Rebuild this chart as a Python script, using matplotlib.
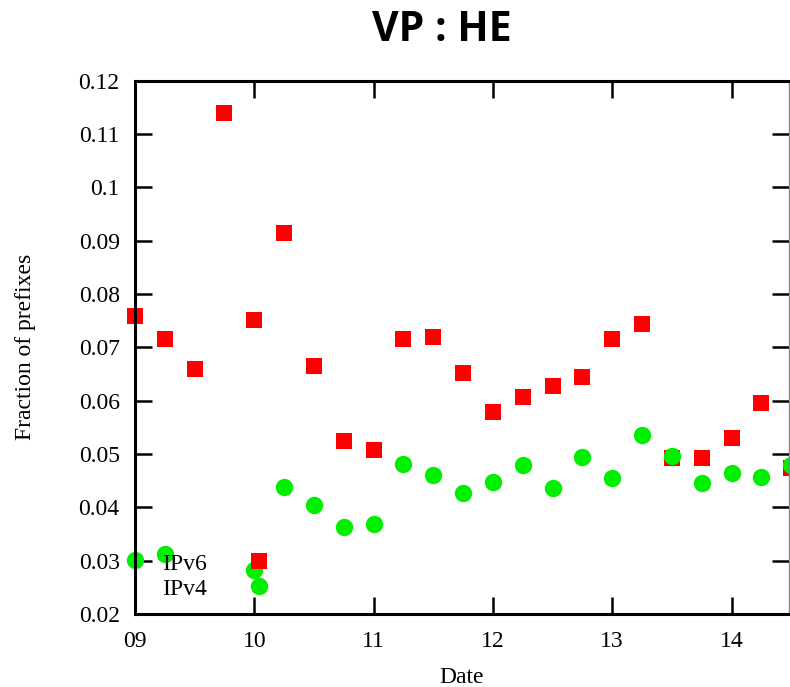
import matplotlib
matplotlib.use("Agg")
import matplotlib.pyplot as plt
import numpy as np

# ======= DATA ==========
dates = [9.0, 9.25, 9.5, 9.75, 10.0, 10.25, 10.5, 10.75, 11.0, 11.25, 11.5, 11.75,
         12.0, 12.25, 12.5, 12.75, 13.0, 13.25, 13.5, 13.75, 14.0, 14.25, 14.5]
ipv6 = [0.0759, 0.0716, 0.0660, 0.1140, 0.0751, 0.0914, 0.0665, 0.0525, 0.0508, 0.0716,
        0.0720, 0.0652, 0.0578, 0.0607, 0.0628, 0.0645, 0.0716, 0.0744, 0.0493, 0.0493,
        0.0529, 0.0596, 0.0473]
ipv4 = [0.0301, 0.0313, np.nan, np.nan, 0.0283, 0.0438, 0.0404, 0.0363, 0.0368, 0.0482,
        0.0461, 0.0426, 0.0447, 0.0480, 0.0437, 0.0495, 0.0454, 0.0536, 0.0496, 0.0445,
        0.0464, 0.0456, 0.0479]
xticks = [9, 10, 11, 12, 13, 14]
xtick_labels = ["09", "10", "11", "12", "13", "14"]
yticks = [0.02, 0.03, 0.04, 0.05, 0.06, 0.07, 0.08, 0.09, 0.10, 0.11, 0.12]
ytick_labels = ["0.02", "0.03", "0.04", "0.05", "0.06", "0.07", "0.08", "0.09", "0.1", "0.11", "0.12"]
# =======================

serif = "Liberation Serif"
fs = 17

fig = plt.figure(figsize=(7.9, 6.87), dpi=100)
ax = fig.add_axes([135 / 790, 1 - 614 / 687, 654 / 790, 533.5 / 687])

ax.plot(dates, ipv6, linestyle="none", marker="s", markersize=12.2, markeredgewidth=0,
        color="#ff0000", label="IPv6", clip_on=False)
ax.plot(dates, ipv4, linestyle="none", marker="o", markersize=12.5, markeredgewidth=0,
        color="#00ee00", label="IPv4", clip_on=False)

ax.set_xlim(9, 9 + 654 / 119.3)
ax.set_ylim(0.02, 0.12)
ax.set_xticks(xticks)
ax.set_xticklabels(xtick_labels, fontfamily=serif, fontsize=fs)
ax.set_yticks(yticks)
ax.set_yticklabels(ytick_labels, fontfamily=serif, fontsize=fs)
ax.tick_params(direction="in", length=12, width=1.8, top=True, right=True, pad=11)
ax.tick_params(axis="x", pad=12)

for s in ax.spines.values():
    s.set_linewidth(2.2)
ax.spines["right"].set_linewidth(1.0)
ax.spines["right"].set_color("#888888")

ax.set_xlabel("Date", fontfamily=serif, fontsize=fs, labelpad=11)
ax.set_ylabel("Fraction of prefixes", fontfamily=serif, fontsize=fs, labelpad=31)

fig.suptitle("VP : HE", fontfamily="Open Sans", fontweight="bold", fontsize=29.5,
             x=442 / 790, y=1 - 40.7 / 687, va="baseline")

ax.legend(loc="upper left", bbox_to_anchor=(27 / 654, 61 / 533.5), frameon=False,
          markerfirst=False, prop={"family": serif, "size": fs}, borderpad=0,
          borderaxespad=0, labelspacing=0.15, handletextpad=1.2, handlelength=2.0)

plt.savefig("out.png", dpi=100)
plt.close()
